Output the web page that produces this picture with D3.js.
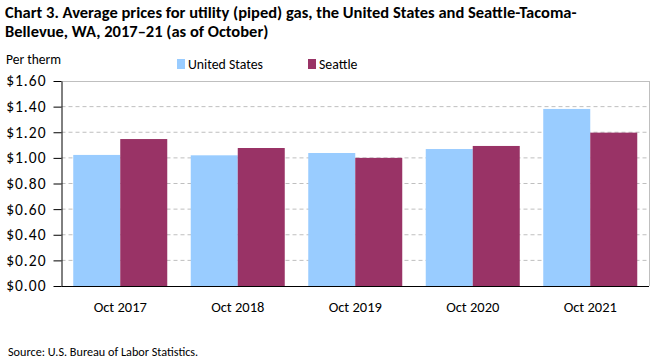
<!DOCTYPE html>
<html><head><meta charset="utf-8">
<script src="https://cdn.jsdelivr.net/npm/d3@7"></script>
<style>body{margin:0;background:#fff}svg{display:block;font-family:Calibri,Carlito,"Open Sans",sans-serif}</style>
</head><body><svg id="c" width="661" height="361"></svg>
<script>
const categories = ["Oct 2017","Oct 2018","Oct 2019","Oct 2020","Oct 2021"];
const seriesNames = ["United States","Seattle"];
const usValues = [1.023, 1.020, 1.038, 1.069, 1.382];
const seattleValues = [1.147, 1.077, 1.000, 1.093, 1.197];
const yTicks = [0,0.2,0.4,0.6,0.8,1.0,1.2,1.4,1.6];
const colors = ["#99ccff","#993366"];

const FF = "Calibri,Carlito,'Open Sans',sans-serif";
const svg = d3.select("#c");
const L=61.5, R=649, T=81, B=286;
const x = d3.scaleBand().domain(categories).range([L,R]).paddingInner(0.2).paddingOuter(0.1);
const xs = d3.scaleBand().domain(seriesNames).range([0,x.bandwidth()]);
const y = d3.scaleLinear().domain([0,1.6]).range([B,T]);

// gridlines
svg.append("g").selectAll("line").data(yTicks.filter(d=>d>0&&d<1.6)).join("line")
  .attr("x1",L).attr("x2",R).attr("y1",d=>y(d)).attr("y2",d=>y(d))
  .attr("stroke","#bfbfbf").attr("stroke-dasharray","4,3");
// border
svg.append("line").attr("x1",L).attr("x2",R).attr("y1",T+0.5).attr("y2",T+0.5).attr("stroke","#bfbfbf");
svg.append("line").attr("x1",R+0.5).attr("x2",R+0.5).attr("y1",T).attr("y2",B).attr("stroke","#bfbfbf");

const data = categories.map((c,i)=>({c, vals:[usValues[i], seattleValues[i]]}));
svg.append("g").selectAll("g").data(data).join("g")
  .attr("transform",d=>`translate(${x(d.c)},0)`)
  .selectAll("rect").data(d=>d.vals.map((v,j)=>({v,s:seriesNames[j],j}))).join("rect")
  .attr("x",d=>xs(d.s)).attr("width",xs.bandwidth())
  .attr("y",d=>y(d.v)).attr("height",d=>B-y(d.v)).attr("fill",d=>colors[d.j]);

// y axis
const ya = svg.append("g").attr("transform",`translate(${L},0)`)
  .call(d3.axisLeft(y).tickValues(yTicks).tickFormat(d=>"$"+d.toFixed(2)).tickSize(8).tickSizeOuter(0));
ya.select(".domain").attr("stroke","#000");
ya.selectAll(".tick line").attr("stroke","#000");
ya.selectAll("text").attr("font-size","15.5px").attr("letter-spacing","1px").attr("fill","#000").attr("x",-15).attr("font-family",FF);

// x axis
const xa = svg.append("g").attr("transform",`translate(0,${B})`)
  .call(d3.axisBottom(x).tickSize(0).tickPadding(16));
xa.select(".domain").attr("stroke","#000").attr("d",`M${L},0.5H${R}`);
xa.selectAll("text").attr("font-size","14.5px").attr("fill","#000").attr("font-family",FF);

// title
const title = svg.append("text").attr("x",5).attr("font-weight","bold").attr("font-size","16.5px").attr("fill","#000");
title.append("tspan").attr("x",5).attr("y",18).text("Chart 3. Average prices for utility (piped) gas, the United States and Seattle-Tacoma-");
title.append("tspan").attr("x",5).attr("y",37).text("Bellevue, WA, 2017\u201321 (as of October)");

svg.append("text").attr("x",6).attr("y",64).attr("font-size","13.5px").text("Per therm");

// legend
const lg = svg.append("g");
const lx = [177, 308];
seriesNames.forEach((s,i)=>{
  lg.append("rect").attr("x",lx[i]).attr("y",59).attr("width",8).attr("height",10).attr("fill",colors[i]);
  lg.append("text").attr("x",lx[i]+11).attr("y",69).attr("font-size","13.8px").text(s);
});

svg.append("text").attr("x",8).attr("y",356).attr("font-size","12.2px").text("Source: U.S. Bureau of Labor Statistics.");
</script></body></html>
